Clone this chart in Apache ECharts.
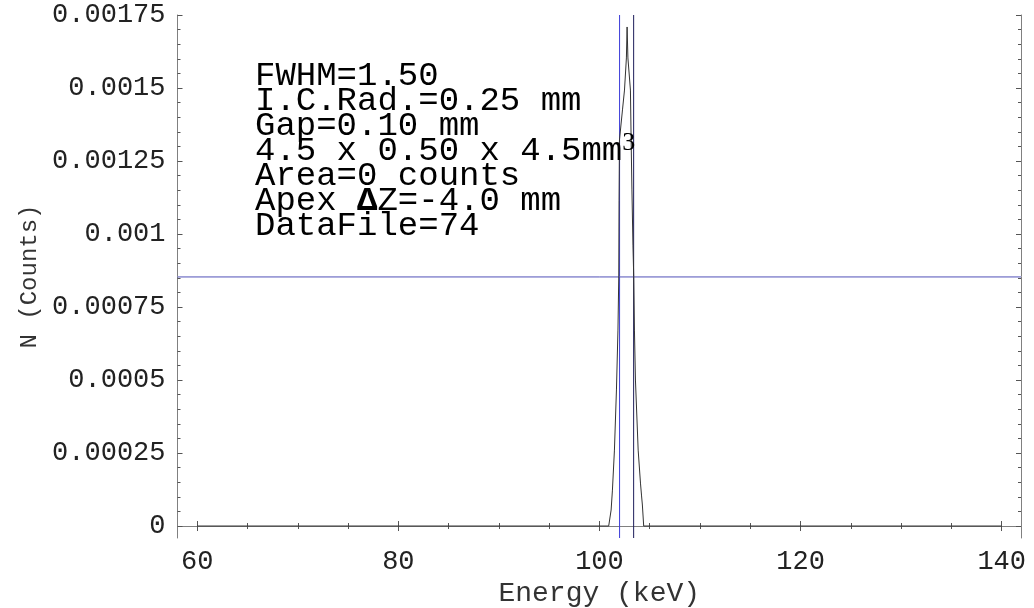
<!DOCTYPE html>
<html><head><meta charset="utf-8">
<script src="https://cdn.jsdelivr.net/npm/echarts@6/dist/echarts.min.js"></script>
<style>html,body{margin:0;padding:0;background:#fff}#c{width:1034px;height:608px}</style>
</head><body><div id="c"></div>
<script>
// Spectrum (Energy keV, N counts)
const energy = [60, 100.92, 101.16, 101.29, 101.49, 101.69, 101.84, 101.92, 101.95, 101.99, 102.29, 102.49, 102.68, 102.75, 102.83, 102.98, 103.08, 103.15, 103.23, 103.33, 103.41, 103.48, 103.58, 103.85, 104.08, 104.18, 104.27, 104.40, 140];
const counts = [0, 0, 0.0000548, 0.000123, 0.00026, 0.000466, 0.000671, 0.000853, 0.001116, 0.001322, 0.001425, 0.001493, 0.001603, 0.001709, 0.001603, 0.001603, 0.001493, 0.001322, 0.001151, 0.000962, 0.000853, 0.000671, 0.0005, 0.00026, 0.000147, 0.000106, 0.000072, 0, 0];

const fwhmLeft = 102.0;
const fwhmRight = 103.4;
const halfMax = 0.000853;

const xTicks = [60, 80, 100, 120, 140];
const xMinorTicks = [65, 70, 75, 85, 90, 95, 105, 110, 115, 125, 130, 135];
const yTicks = [0, 0.00025, 0.0005, 0.00075, 0.001, 0.00125, 0.0015, 0.00175];
const yMinorTicks = [0.00005, 0.0001, 0.00015, 0.0002, 0.0003, 0.00035, 0.0004, 0.00045,
  0.00055, 0.0006, 0.00065, 0.0007, 0.0008, 0.00085, 0.0009, 0.00095,
  0.00105, 0.0011, 0.00115, 0.0012, 0.0013, 0.00135, 0.0014, 0.00145,
  0.00155, 0.0016, 0.00165, 0.0017];
const yTickLabels = ['0', '0.00025', '0.0005', '0.00075', '0.001', '0.00125', '0.0015', '0.00175'];

const xMin = 58.04, xMax = 141.92;
const yMin = -0.000041, yMax = 0.00175;

const xName = 'Energy (keV)';
const yName = 'N (Counts)';
const annotationLines = [
  '{t|FWHM=1.50}',
  '{t|I.C.Rad.=0.25 mm}',
  '{t|Gap=0.10 mm}',
  '{t|4.5 x 0.50 x 4.5mm}{s|3}',
  '{t|Area=0 counts}',
  '{t|Apex }{b|Δ}{t|Z=-4.0 mm}',
  '{t|DataFile=74}'
];

const FONT = 'Liberation Mono';
const frameColor = '#808080';
const tickColor = '#555';
const gridRect = { left: 177.5, right: 13, top: 15, bottom: 70, containLabel: false, outerBoundsMode: 'none' };

function axisBase(extra) {
  return Object.assign({
    type: 'value',
    splitLine: { show: false },
    axisLine: { show: true, lineStyle: { color: frameColor, width: 1 } },
    axisLabel: { show: false },
    axisPointer: { show: false }
  }, extra);
}

function guide(points, color) {
  return {
    type: 'line', xAxisIndex: 0, yAxisIndex: 0, data: points,
    showSymbol: false, silent: true, z: 2,
    lineStyle: { color: color, width: 1 }
  };
}

const chart = echarts.init(document.getElementById('c'), null, { renderer: 'canvas' });
chart.setOption({
  animation: false,
  backgroundColor: '#fff',
  grid: [Object.assign({}, gridRect), Object.assign({}, gridRect)],
  xAxis: [
    axisBase({ gridIndex: 0, position: 'bottom', min: xMin, max: xMax,
      axisTick: { show: true, inside: true, length: 5, customValues: xTicks, lineStyle: { color: tickColor } },
      axisLabel: { show: true, customValues: xTicks, margin: 10, color: '#222', fontFamily: FONT, fontSize: 27 },
      name: xName, nameLocation: 'middle', nameGap: 37,
      nameTextStyle: { fontFamily: FONT, fontSize: 28, color: '#333' } }),
    axisBase({ gridIndex: 0, position: 'top', min: xMin, max: xMax,
      axisTick: { show: true, inside: true, length: 5, customValues: xTicks, lineStyle: { color: tickColor } } }),
    axisBase({ gridIndex: 1, position: 'bottom', min: xMin, max: xMax, axisLine: { show: false },
      axisTick: { show: true, inside: true, length: 3, customValues: xMinorTicks, lineStyle: { color: tickColor } } }),
    axisBase({ gridIndex: 1, position: 'top', min: xMin, max: xMax, axisLine: { show: false },
      axisTick: { show: true, inside: true, length: 3, customValues: xMinorTicks, lineStyle: { color: tickColor } } })
  ],
  yAxis: [
    axisBase({ gridIndex: 0, position: 'left', min: yMin, max: yMax,
      axisTick: { show: true, inside: true, length: 5, customValues: yTicks, lineStyle: { color: tickColor } },
      axisLabel: { show: true, customValues: yTicks, margin: 12, color: '#222', fontFamily: FONT, fontSize: 27,
        formatter: function (v) { const i = yTicks.findIndex(t => Math.abs(t - v) < 1e-9); return i >= 0 ? yTickLabels[i] : ''; } },
      name: yName, nameLocation: 'middle', nameGap: 135,
      nameTextStyle: { fontFamily: FONT, fontSize: 24, color: '#333' } }),
    axisBase({ gridIndex: 0, position: 'right', min: yMin, max: yMax,
      axisTick: { show: true, inside: true, length: 5, customValues: yTicks, lineStyle: { color: tickColor } } }),
    axisBase({ gridIndex: 1, position: 'left', min: yMin, max: yMax, axisLine: { show: false },
      axisTick: { show: true, inside: true, length: 3, customValues: yMinorTicks, lineStyle: { color: tickColor } } }),
    axisBase({ gridIndex: 1, position: 'right', min: yMin, max: yMax, axisLine: { show: false },
      axisTick: { show: true, inside: true, length: 3, customValues: yMinorTicks, lineStyle: { color: tickColor } } })
  ],
  series: [
    guide([[fwhmLeft, yMin], [fwhmLeft, yMax]], '#3c3cd8'),
    guide([[fwhmRight, yMin], [fwhmRight, yMax]], '#1c1c5a'),
    guide([[xMin, halfMax], [xMax, halfMax]], '#5050b8'),
    {
      type: 'line',
      xAxisIndex: 0, yAxisIndex: 0,
      data: energy.map((e, i) => [e, counts[i]]),
      showSymbol: false,
      lineStyle: { color: '#333', width: 1 },
      silent: true,
      z: 3
    }
  ],
  graphic: [{
    type: 'text', left: 255, top: 59, z: 10,
    style: {
      text: annotationLines.join('\n'),
      fill: '#000',
      font: '34px "Liberation Mono"',
      rich: {
        t: { fontFamily: FONT, fontSize: 34, lineHeight: 25, color: '#000' },
        b: { fontFamily: FONT, fontSize: 34, lineHeight: 25, fontWeight: 'bold', color: '#000' },
        s: { fontFamily: 'Liberation Serif', fontSize: 26, lineHeight: 25, padding: [0, 0, 16, 0], color: '#000' }
      }
    }
  }]
});
</script>
</body></html>
